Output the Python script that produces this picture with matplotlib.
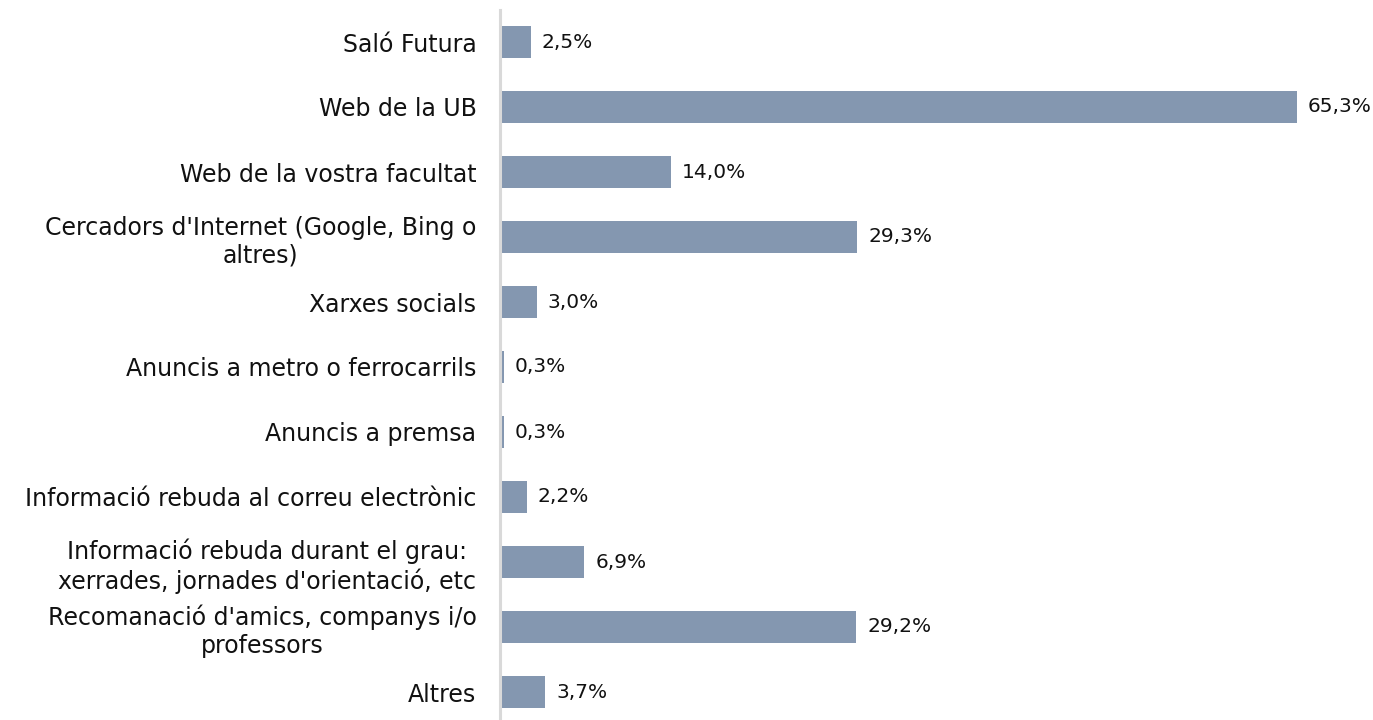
import matplotlib
matplotlib.use("Agg")
import matplotlib.pyplot as plt

categories = [
    "Saló Futura",
    "Web de la UB",
    "Web de la vostra facultat",
    "Cercadors d'Internet (Google, Bing o\naltres)",
    "Xarxes socials",
    "Anuncis a metro o ferrocarrils",
    "Anuncis a premsa",
    "Informació rebuda al correu electrònic",
    "Informació rebuda durant el grau:\nxerrades, jornades d'orientació, etc",
    "Recomanació d'amics, companys i/o\nprofessors",
    "Altres",
]
values = [2.5, 65.3, 14.0, 29.3, 3.0, 0.3, 0.3, 2.2, 6.9, 29.2, 3.7]

plt.rcParams['font.family'] = ['DejaVu Sans']

fig = plt.figure(figsize=(13.73, 7.2), dpi=100)
ax = fig.add_axes([500 / 1373, -4.5 / 720, 840 / 1373, 715 / 720])

ypos = list(range(len(categories)))
ax.barh(ypos, values, height=0.49, color='#8497B0', zorder=2)

for y, v in zip(ypos, values):
    ax.annotate(f"{v:.1f}%".replace('.', ','), xy=(v, y), xytext=(8, 0),
                textcoords='offset points', va='center', ha='left',
                fontsize=14.5, color='#111111')

ax.set_xlim(0, 840 / 12.2)
ax.set_ylim(len(categories) - 0.5, -0.5)
ax.set_yticks(ypos)
ax.set_yticklabels(categories, fontsize=17, multialignment='center', color='#111111',
                   linespacing=1.2)
ax.tick_params(axis='y', length=0, pad=17)
ax.set_xticks([])

for side in ['top', 'right', 'bottom']:
    ax.spines[side].set_visible(False)
ax.spines['left'].set_color('#d9d9d9')
ax.spines['left'].set_linewidth(2.2)

fig.savefig("out.png", dpi=100)
